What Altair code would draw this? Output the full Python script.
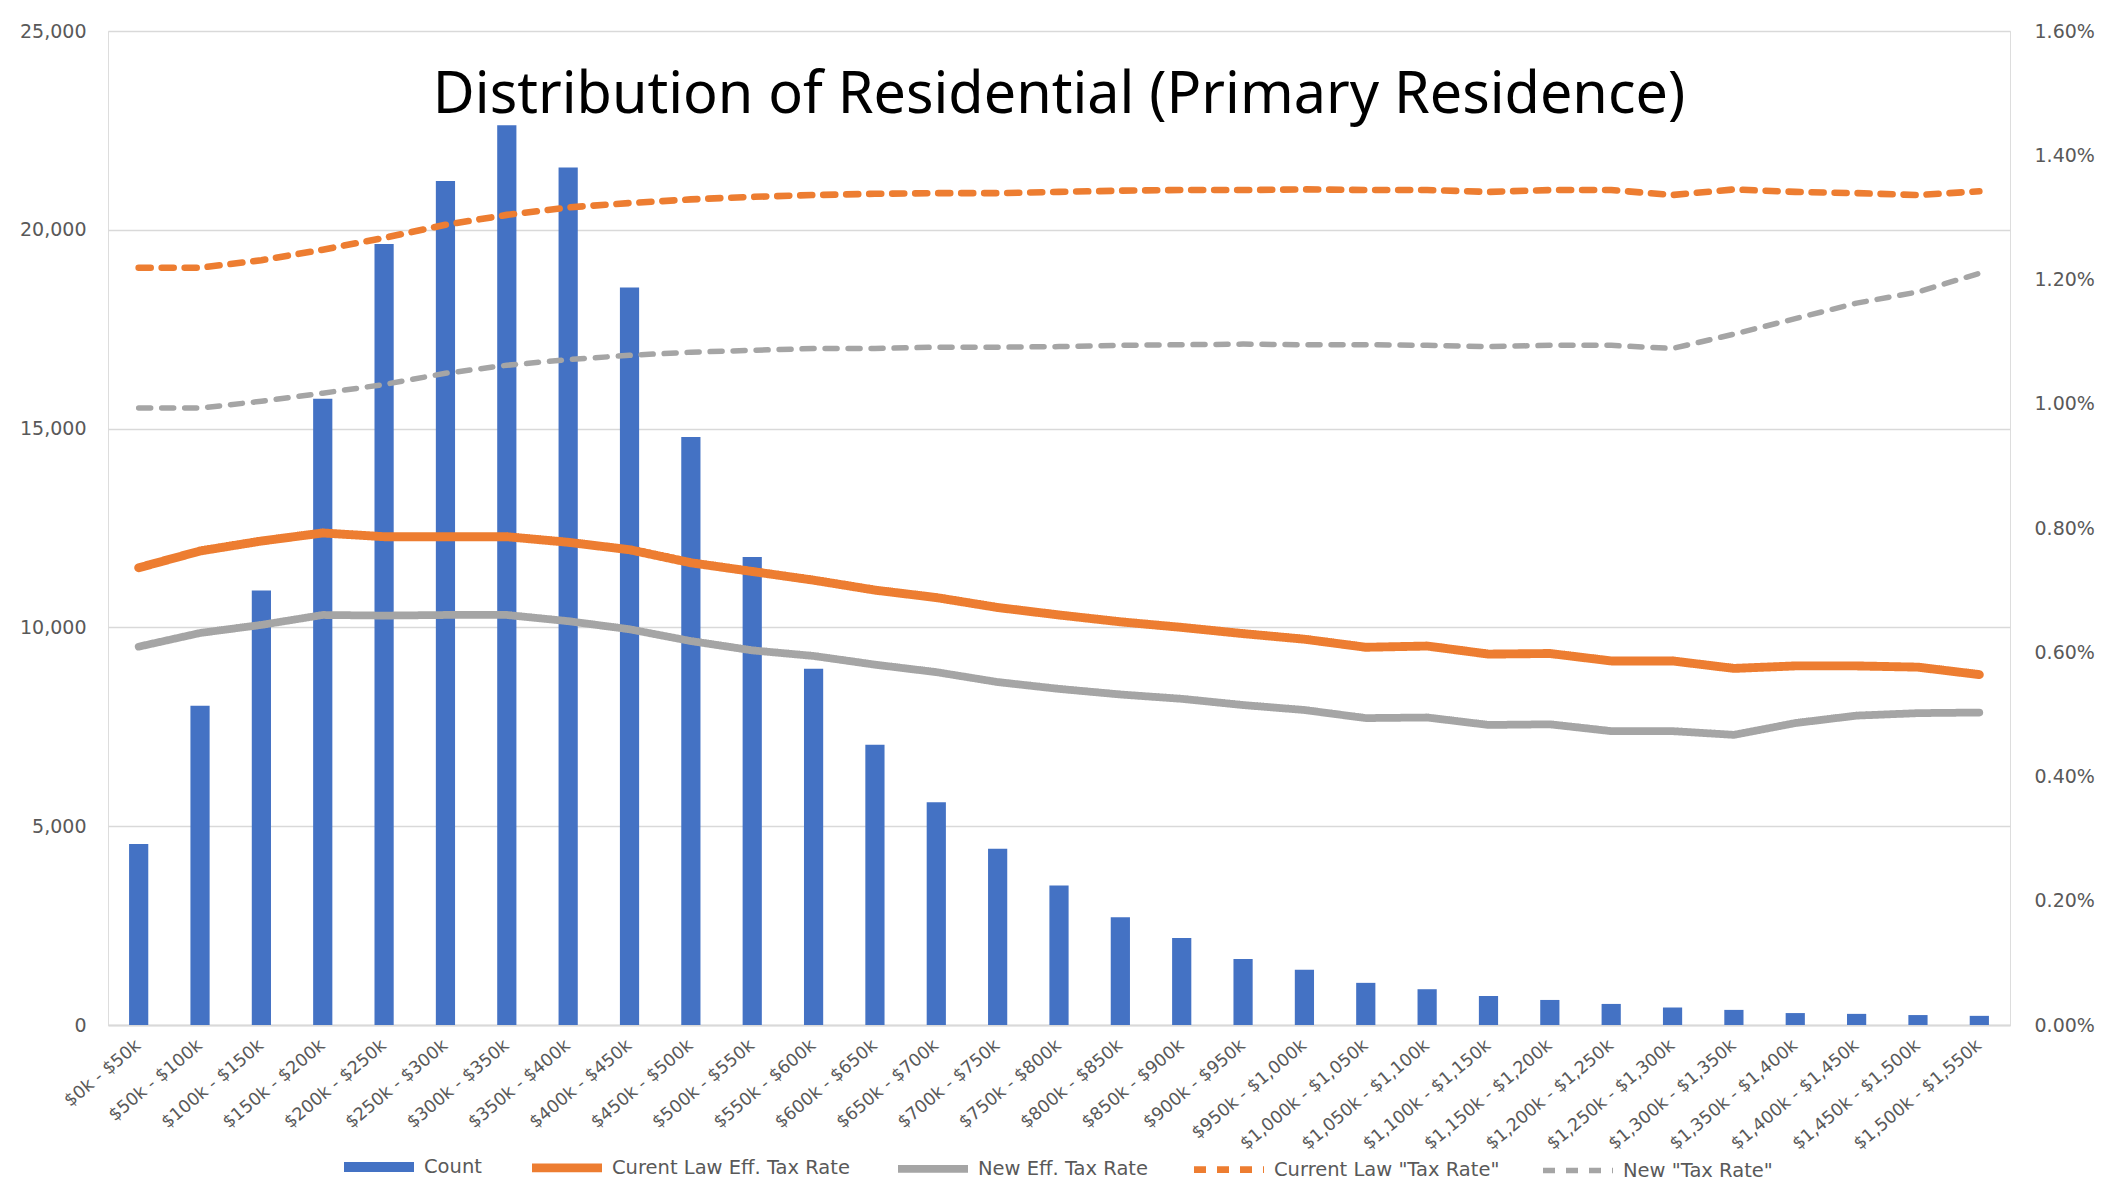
import altair as alt
import pandas as pd

categories = [
    "$0k - $50k", "$50k - $100k", "$100k - $150k", "$150k - $200k", "$200k - $250k",
    "$250k - $300k", "$300k - $350k", "$350k - $400k", "$400k - $450k", "$450k - $500k",
    "$500k - $550k", "$550k - $600k", "$600k - $650k", "$650k - $700k", "$700k - $750k",
    "$750k - $800k", "$800k - $850k", "$850k - $900k", "$900k - $950k", "$950k - $1,000k",
    "$1,000k - $1,050k", "$1,050k - $1,100k", "$1,100k - $1,150k", "$1,150k - $1,200k",
    "$1,200k - $1,250k", "$1,250k - $1,300k", "$1,300k - $1,350k", "$1,350k - $1,400k",
    "$1,400k - $1,450k", "$1,450k - $1,500k", "$1,500k - $1,550k",
]

counts = [4550, 8030, 10930, 15750, 19640, 21230, 22630, 21570, 18550, 14790,
          11770, 8960, 7050, 5600, 4430, 3510, 2710, 2190, 1660, 1390,
          1060, 900, 730, 630, 530, 440, 380, 300, 280, 250, 230]

# rates in percent
cur_eff = [0.736, 0.763, 0.779, 0.792, 0.786, 0.786, 0.786, 0.777, 0.765, 0.744,
           0.730, 0.716, 0.700, 0.688, 0.672, 0.660, 0.649, 0.640, 0.630, 0.621,
           0.608, 0.610, 0.597, 0.598, 0.586, 0.586, 0.574, 0.578, 0.578, 0.576, 0.564]
new_eff = [0.609, 0.631, 0.644, 0.660, 0.659, 0.660, 0.660, 0.650, 0.637, 0.618,
           0.603, 0.594, 0.580, 0.568, 0.552, 0.541, 0.532, 0.525, 0.515, 0.507,
           0.494, 0.495, 0.483, 0.484, 0.473, 0.473, 0.467, 0.486, 0.498, 0.502, 0.503]
cur_tax = [1.219, 1.219, 1.231, 1.248, 1.267, 1.288, 1.304, 1.316, 1.323, 1.329,
           1.333, 1.336, 1.338, 1.339, 1.339, 1.341, 1.343, 1.344, 1.344, 1.345,
           1.344, 1.344, 1.341, 1.344, 1.344, 1.336, 1.345, 1.341, 1.339, 1.336, 1.342]
new_tax = [0.993, 0.993, 1.004, 1.017, 1.031, 1.049, 1.062, 1.071, 1.078, 1.083,
           1.086, 1.089, 1.089, 1.091, 1.091, 1.092, 1.094, 1.095, 1.096, 1.095,
           1.095, 1.094, 1.092, 1.094, 1.094, 1.089, 1.112, 1.137, 1.162, 1.180, 1.210]

series_names = ["Count", "Curent Law Eff. Tax Rate", "New Eff. Tax Rate",
                'Current Law "Tax Rate"', 'New "Tax Rate"']
series_colors = ["#4472C4", "#ED7D31", "#A5A5A5", "#ED7D31", "#A5A5A5"]
series_dash = [[1, 0], [1, 0], [1, 0], [12, 11], [12, 11]]
series_width = [10, 5.5, 5.5, 4.5, 4.5]

bars_df = pd.DataFrame({"category": categories, "count": counts})

rows = []
for name, vals in zip(series_names[1:], [cur_eff, new_eff, cur_tax, new_tax]):
    for c, v in zip(categories, vals):
        rows.append({"category": c, "series": name, "rate": v / 100.0})
lines_df = pd.DataFrame(rows)

FONT = "DejaVu Sans"
TXT = "#595959"

x_enc = alt.X(
    "category:N", sort=categories, title=None,
    scale=alt.Scale(paddingInner=0.687, paddingOuter=0.3435),
    axis=alt.Axis(labelAngle=-40, labelAlign="right", labelBaseline="middle",
                  labelPadding=18, ticks=False, domainColor="#D9D9D9", domainWidth=2,
                  labelFont=FONT, labelFontSize=17.5, labelColor=TXT, labelOverlap=False,
                  grid=False),
)

bars = alt.Chart(bars_df).mark_bar(color="#4472C4").encode(
    x=x_enc,
    y=alt.Y("count:Q", title=None,
            scale=alt.Scale(domain=[0, 25000], nice=False),
            axis=alt.Axis(values=[0, 5000, 10000, 15000, 20000, 25000], format=",.0f",
                          grid=True, gridColor="#D9D9D9", gridWidth=1.5,
                          ticks=False, domain=False, labelPadding=22,
                          labelFont=FONT, labelFontSize=19, labelColor=TXT)),
)

lines = alt.Chart(lines_df).mark_line(strokeCap="round", strokeJoin="round").encode(
    x=x_enc,
    y=alt.Y("rate:Q", title=None,
            scale=alt.Scale(domain=[0, 0.016], nice=False),
            axis=alt.Axis(orient="right",
                          values=[0, 0.002, 0.004, 0.006, 0.008, 0.010, 0.012, 0.014, 0.016],
                          format=".2%", grid=False, ticks=False, domain=False,
                          labelPadding=24, labelFont=FONT, labelFontSize=19,
                          labelColor=TXT)),
    color=alt.Color("series:N", title=None,
                    scale=alt.Scale(domain=series_names, range=series_colors),
                    legend=alt.Legend(orient="none", direction="horizontal",
                                      legendX=231, legendY=1096,
                                      symbolType="stroke", symbolSize=4900,
                                      labelFont=FONT, labelFontSize=19.5,
                                      labelColor=TXT, labelOffset=5, labelLimit=0,
                                      columnPadding=32, columns=5)),
    strokeDash=alt.StrokeDash("series:N", title=None,
                              scale=alt.Scale(domain=series_names, range=series_dash)),
    strokeWidth=alt.StrokeWidth("series:N", title=None,
                                scale=alt.Scale(domain=series_names, range=series_width)),
)

chart = alt.layer(bars, lines).resolve_scale(y="independent").properties(
    width=1902, height=994,
    autosize=alt.AutoSizeParams(type="none"),
    padding={"left": 100, "top": 23, "right": 94, "bottom": 158},
    title=alt.Title("Distribution of Residential (Primary Residence)",
                    font="Noto Sans", fontSize=57.5, fontWeight="normal", color="#000000",
                    anchor="middle", baseline="alphabetic", offset=-148),
).configure_view(stroke=None).configure(background="white")

chart.save("out.html", embed_options={"renderer": "svg", "actions": False})
